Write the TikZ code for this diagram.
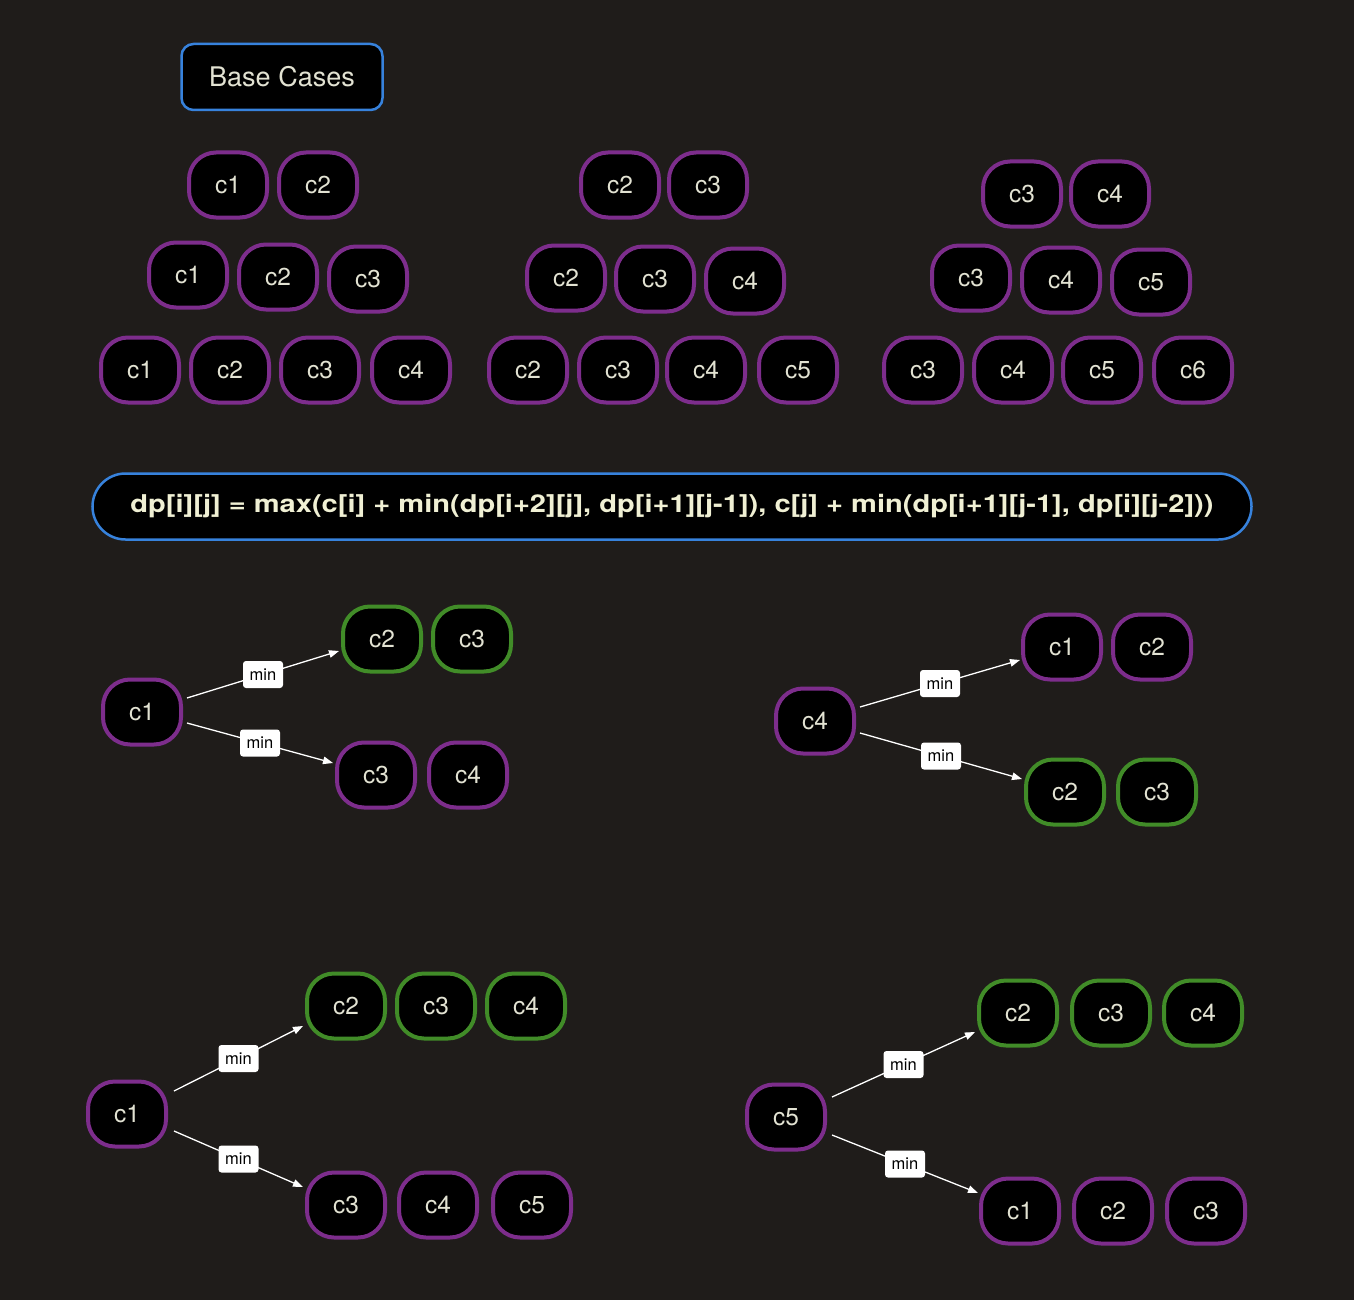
\documentclass[tikz,border=0pt]{standalone}
\usepackage{fontspec}
\usepackage{graphicx}
\setmainfont{TeX Gyre Heros}
\usetikzlibrary{arrows.meta}
\definecolor{bgc}{RGB}{31,28,26}
\definecolor{purp}{RGB}{125,45,140}
\definecolor{grn}{RGB}{65,140,40}
\definecolor{blu}{RGB}{55,130,220}
\definecolor{txt}{RGB}{226,226,210}
\definecolor{ftxt}{RGB}{240,240,212}
\newcommand\myCellFont{\fontsize{24.5}{28}\selectfont}
\newcommand\myLabFont{\fontsize{16.5}{18}\selectfont}
\tikzset{
  cell/.style={draw=purp, line width=4pt, fill=black, rounded corners=27pt,
    minimum width=78pt, minimum height=65pt, inner sep=0pt, text=txt, font=\myCellFont},
  gcell/.style={cell, draw=grn},
  titlebox/.style={draw=blu, line width=2.5pt, fill=black, rounded corners=12pt,
    minimum width=201pt, minimum height=66pt, inner sep=0pt, text=txt,
    font=\fontsize{27}{30}\selectfont},
  formbox/.style={draw=blu, line width=2.5pt, fill=black, rounded corners=33pt,
    minimum width=1159pt, minimum height=66pt, inner sep=0pt, text=ftxt},
  arr/.style={draw=white, line width=1.3pt, -{Triangle[length=10pt,width=7.5pt]}},
  lab/.style={fill=white, text=black, rounded corners=3pt, inner sep=0pt,
    minimum width=40pt, minimum height=27pt, font=\myLabFont}
}
\begin{document}
\begin{tikzpicture}[x=1pt,y=-1pt]
\fill[bgc] (0,0) rectangle (1354,1300);
\useasboundingbox (0,0) rectangle (1354,1300);

\node[titlebox] (base) at (282,77) {Base Cases};

% group 1
\node[cell] (a11) at (228,185) {c1};
\node[cell] (a12) at (318,185) {c2};
\node[cell] (a21) at (188,275) {c1};
\node[cell] (a22) at (278,277) {c2};
\node[cell] (a23) at (368,279) {c3};
\node[cell] (a31) at (140,370) {c1};
\node[cell] (a32) at (230,370) {c2};
\node[cell] (a33) at (320,370) {c3};
\node[cell] (a34) at (411,370) {c4};
% group 2
\node[cell] (b11) at (620,185) {c2};
\node[cell] (b12) at (708,185) {c3};
\node[cell] (b21) at (566,278) {c2};
\node[cell] (b22) at (655,279) {c3};
\node[cell] (b23) at (745,281) {c4};
\node[cell] (b31) at (528,370) {c2};
\node[cell] (b32) at (618,370) {c3};
\node[cell] (b33) at (706,370) {c4};
\node[cell] (b34) at (798,370) {c5};
% group 3
\node[cell] (c11) at (1022,194) {c3};
\node[cell] (c12) at (1110,194) {c4};
\node[cell] (c21) at (971,278) {c3};
\node[cell] (c22) at (1061,280) {c4};
\node[cell] (c23) at (1151,282) {c5};
\node[cell] (c31) at (923,370) {c3};
\node[cell] (c32) at (1013,370) {c4};
\node[cell] (c33) at (1102,370) {c5};
\node[cell] (c34) at (1193,370) {c6};

\node[formbox] (form) at (672,506.5) {\resizebox{1083pt}{\height}{\bfseries\fontsize{24.5}{28}\selectfont dp[i][j] = max(c[i] + min(dp[i+2][j], dp[i+1][j-1]), c[j] + min(dp[i+1][j-1], dp[i][j-2]))}};

% tree 1
\node[cell] (t1s) at (142,712) {c1};
\node[gcell] (t1a) at (382,639) {c2};
\node[gcell] (t1b) at (472,639) {c3};
\node[cell] (t1c) at (376,775) {c3};
\node[cell] (t1d) at (468,775) {c4};
\draw[arr] ([xshift=4pt,yshift=14pt]t1s.east) -- node[lab]{min} ([xshift=-2pt,yshift=-12pt]t1a.west);
\draw[arr] ([xshift=4pt,yshift=-11pt]t1s.east) -- node[lab]{min} ([xshift=-2pt,yshift=12pt]t1c.west);

% tree 2
\node[cell] (t2s) at (815,721) {c4};
\node[cell] (t2a) at (1062,647) {c1};
\node[cell] (t2b) at (1152,647) {c2};
\node[gcell] (t2c) at (1065,792) {c2};
\node[gcell] (t2d) at (1157,792) {c3};
\draw[arr] ([xshift=4pt,yshift=14pt]t2s.east) -- node[lab]{min} ([xshift=-1pt,yshift=-13pt]t2a.west);
\draw[arr] ([xshift=4pt,yshift=-12pt]t2s.east) -- node[lab]{min} ([xshift=-2pt,yshift=13pt]t2c.west);

% tree 3
\node[cell] (t3s) at (127,1114) {c1};
\node[gcell] (t3a) at (346,1006) {c2};
\node[gcell] (t3b) at (436,1006) {c3};
\node[gcell] (t3c) at (526,1006) {c4};
\node[cell] (t3d) at (346,1205) {c3};
\node[cell] (t3e) at (438,1205) {c4};
\node[cell] (t3f) at (532,1205) {c5};
\draw[arr] ([xshift=6pt,yshift=23pt]t3s.east) -- node[lab]{min} ([xshift=-2pt,yshift=-20pt]t3a.west);
\draw[arr] ([xshift=6pt,yshift=-17pt]t3s.east) -- node[lab]{min} ([xshift=-2pt,yshift=18pt]t3d.west);

% tree 4
\node[cell] (t4s) at (786,1117) {c5};
\node[gcell] (t4a) at (1018,1013) {c2};
\node[gcell] (t4b) at (1111,1013) {c3};
\node[gcell] (t4c) at (1203,1013) {c4};
\node[cell] (t4d) at (1020,1211) {c1};
\node[cell] (t4e) at (1113,1211) {c2};
\node[cell] (t4f) at (1206,1211) {c3};
\draw[arr] ([xshift=5pt,yshift=20pt]t4s.east) -- node[lab]{min} ([xshift=-2pt,yshift=-19pt]t4a.west);
\draw[arr] ([xshift=5pt,yshift=-18pt]t4s.east) -- node[lab]{min} ([xshift=-1pt,yshift=18pt]t4d.west);
\end{tikzpicture}
\end{document}
